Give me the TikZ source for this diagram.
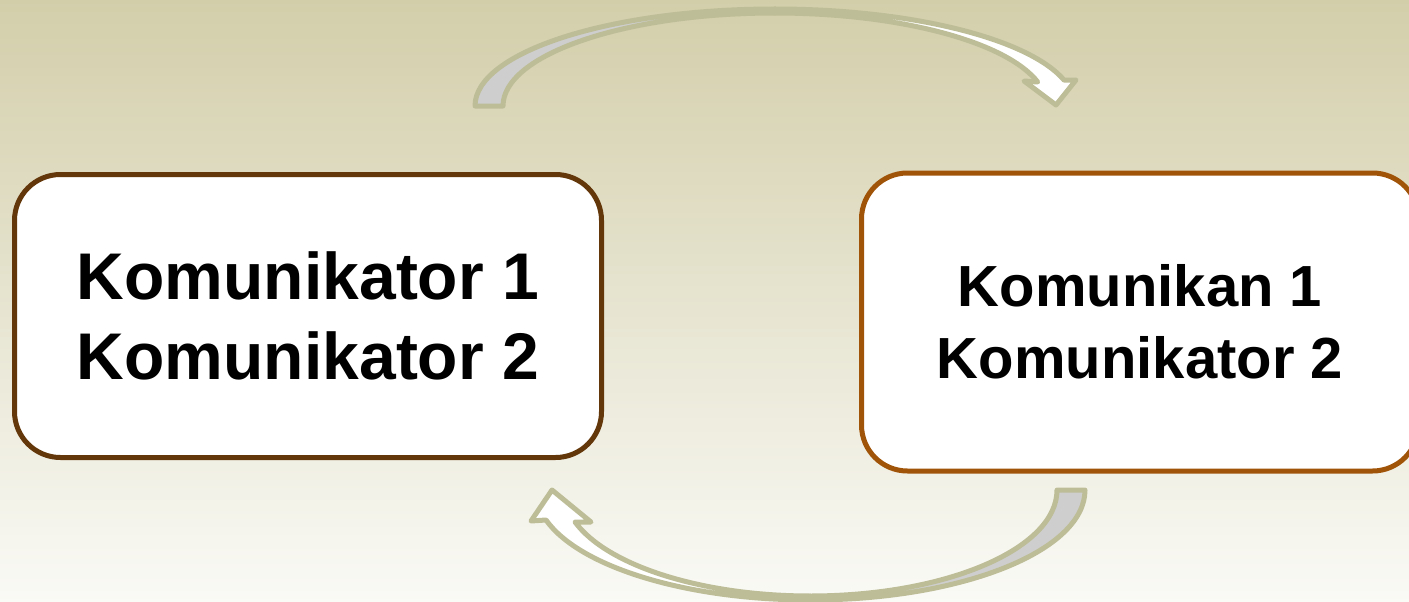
\documentclass[tikz,border=0pt]{standalone}
\usepackage{fontspec}
\setmainfont{Liberation Sans}
\definecolor{bgtop}{RGB}{211,206,170}
\definecolor{bgmid}{RGB}{233,230,211}
\definecolor{bgbot}{RGB}{250,250,246}
\definecolor{brownA}{RGB}{100,55,10}
\definecolor{brownB}{RGB}{160,84,8}
\definecolor{olive}{RGB}{189,189,152}
\definecolor{backgray}{RGB}{206,206,206}
\begin{document}
\begin{tikzpicture}[x=1pt,y=-1pt,
  box/.style={draw, line width=5pt, fill=white, rounded corners=46pt, align=center, inner sep=0pt},
  arrowpart/.style={draw=olive, line width=5pt, line join=round}]
\useasboundingbox (0,0) rectangle (1409,602);
\shade[top color=bgtop, middle color=bgmid, bottom color=bgbot] (0,0) rectangle (1409,602);

\node[box, draw=brownA, minimum width=587pt, minimum height=283pt,
      font=\bfseries\fontsize{66}{80}\selectfont] (k1) at (308,316) {Komunikator 1\\Komunikator 2};
\node[box, draw=brownB, minimum width=557pt, minimum height=298pt,
      font=\bfseries\fontsize{58}{72}\selectfont] (k2) at (1140,322) {Komunikan 1\\Komunikator 2};

% top curved arrow (k1 -> k2)
\draw[arrowpart, fill=backgray] (475,106) .. controls (475,52.4) and (609.3,9) .. (775,9)
  -- (775,13) .. controls (624.8,13) and (503,54.6) .. (503,106) -- cycle;
\draw[arrowpart, fill=white] (775,9) .. controls (909.6,9) and (1028.1,38.1) .. (1064.1,80.1)
  -- (1076,80) -- (1056,105) -- (1024,81) -- (1037.7,82)
  .. controls (1005.9,41.3) and (898.1,13) .. (775,13) -- cycle;

% bottom curved arrow (k2 -> k1)
\draw[arrowpart, fill=backgray] (1085,490) .. controls (1085,550.8) and (962,600) .. (810.3,600)
  -- (810.2,596) .. controls (946.5,596) and (1057,548.5) .. (1057,490) -- cycle;
\draw[arrowpart, fill=white] (810.3,600) .. controls (687.4,600) and (579.6,567.4) .. (546,520)
  -- (531,521) -- (552,490) -- (591,522) -- (575,522)
  .. controls (607.5,566) and (702.6,596) .. (810.2,596) -- cycle;
\end{tikzpicture}
\end{document}
